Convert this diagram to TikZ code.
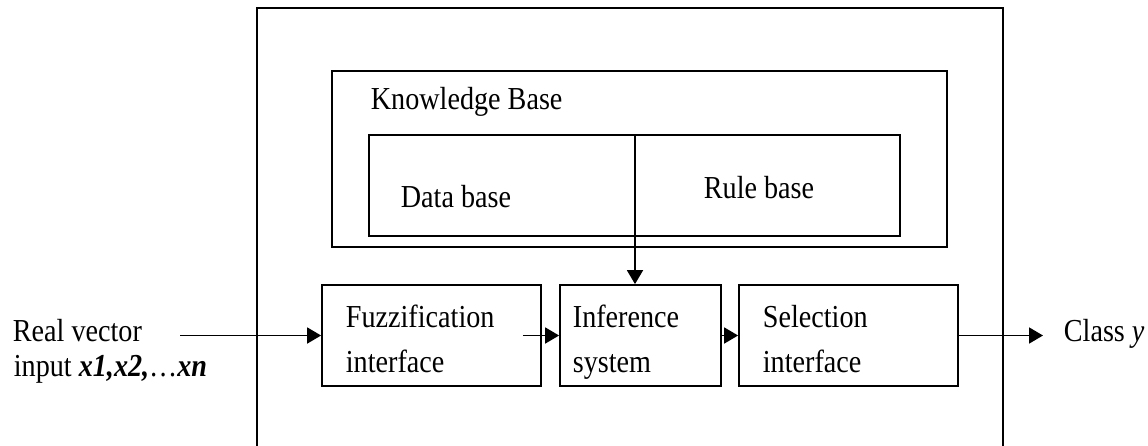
\documentclass[tikz,border=0pt]{standalone}
\usepackage{fontspec}
\setmainfont{Liberation Serif}[FakeStretch=0.88]
\usetikzlibrary{arrows.meta}
\begin{document}
\begin{tikzpicture}[x=1pt,y=-1pt,
  line width=1.8pt,
  every node/.style={font=\fontsize{32}{38}\selectfont},
  block/.style={draw, rectangle, inner sep=0pt},
  lbl/.style={anchor=base west, inner sep=0pt},
  flow/.style={-{Triangle[length=14pt,width=16pt]}}]
  \useasboundingbox (0,0) rectangle (1148,445);

  % enclosing system frame (runs off the bottom)
  \draw (257,450) -- (257,8) -- (1003,8) -- (1003,450);

  % knowledge base and its inner data/rule store
  \node[block, minimum width=615pt, minimum height=176pt] (kb) at (639.5,159) {};
  \node[block, minimum width=531pt, minimum height=101pt] (store) at (634.5,185.5) {};

  % processing stages
  \node[block, minimum width=219pt, minimum height=101pt] (fuzz) at (431.5,335.5) {};
  \node[block, minimum width=161pt, minimum height=101pt] (inf) at (640.5,335.5) {};
  \node[block, minimum width=219pt, minimum height=101pt] (sel) at (848.5,335.5) {};

  % labels
  \node[lbl] (kbt) at (370,109) {Knowledge Base};
  \node[lbl] (dbt) at (400,207) {Data base};
  \node[lbl] (rbt) at (703,198) {Rule base};
  \node[lbl] (f1) at (345,327) {Fuzzification};
  \node[lbl] (f2) at (345,372) {interface};
  \node[lbl] (i1) at (572,327) {Inference};
  \node[lbl] (i2) at (572,372) {system};
  \node[lbl] (s1) at (762,327) {Selection};
  \node[lbl] (s2) at (762,372) {interface};
  \node[lbl] (in1) at (12,341) {Real vector};
  \node[lbl] (in2) at (13,376) {input \textbf{\textit{x1,x2,}}\ldots\textbf{\textit{xn}}};
  \node[lbl] (out) at (1063,341) {Class \textit{y}};

  % connectors
  \coordinate (src) at (180,335.5);
  \coordinate (snk) at (1043,335.5);
  \coordinate (tap) at (635,135);
  \draw[flow] (src) -- (fuzz.west);
  \draw[flow] ([xshift=-19pt]fuzz.east) -- (inf.west);
  \draw[flow] (inf.east) -- (sel.west);
  \draw[flow] (sel.east) -- (snk);
  \draw[flow] (tap) -- (tap |- inf.north);
\end{tikzpicture}
\end{document}
